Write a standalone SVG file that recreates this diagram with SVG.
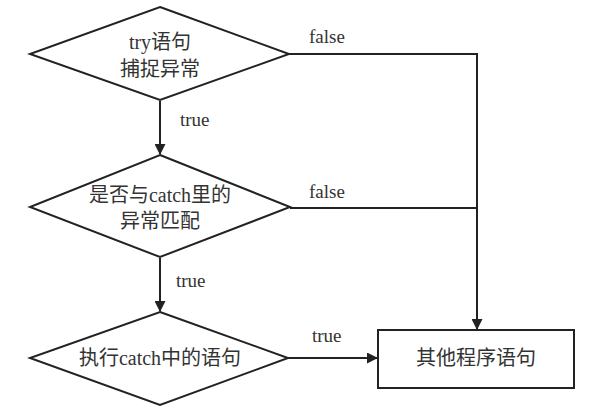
<svg xmlns="http://www.w3.org/2000/svg" width="591" height="416" viewBox="0 0 591 416">
<style>
.shape{fill:#fff;stroke:#222;stroke-width:2}
.line{fill:none;stroke:#222;stroke-width:2}
.t{font-family:"Liberation Serif","Noto Sans CJK SC",serif;font-size:20px;fill:#333;text-anchor:middle;dominant-baseline:central}
.lbl{font-family:"Liberation Serif",serif;font-size:19px;fill:#333}
</style>
<defs>
<marker id="arr" markerWidth="11" markerHeight="11" refX="10" refY="5.5" orient="auto" markerUnits="userSpaceOnUse">
<path d="M0,0 L11,5.5 L0,11 Z" fill="#222"/>
</marker>
</defs>
<rect width="591" height="416" fill="#fff"/>
<g id="connectors">
<line class="line" x1="160" y1="101" x2="160" y2="154" marker-end="url(#arr)"/>
<line class="line" x1="160" y1="258" x2="160" y2="311" marker-end="url(#arr)"/>
<polyline class="line" points="289,54 477,54 477,329" marker-end="url(#arr)"/>
<line class="line" x1="290" y1="208" x2="477" y2="208"/>
<line class="line" x1="288" y1="358" x2="377" y2="358" marker-end="url(#arr)"/>
<text class="lbl" x="180" y="126">true</text>
<text class="lbl" x="176" y="287">true</text>
<text class="lbl" x="309" y="43">false</text>
<text class="lbl" x="309" y="198">false</text>
<text class="lbl" x="312" y="342">true</text>
</g>
<g id="n1">
<polygon class="shape" points="160,7 289,54 160,100 30,54"/>
<text class="t" x="160" y="42">try语句</text>
<text class="t" x="160" y="69">捕捉异常</text>
</g>
<g id="n2">
<polygon class="shape" points="160,155 290,207 160,257 30,207"/>
<text class="t" x="160" y="195">是否与catch里的</text>
<text class="t" x="160" y="221">异常匹配</text>
</g>
<g id="n3">
<polygon class="shape" points="160,312 288,358 160,405 30,358"/>
<text class="t" x="160" y="358">执行catch中的语句</text>
</g>
<g id="n4">
<rect class="shape" x="378" y="330" width="196" height="58"/>
<text class="t" x="476" y="358">其他程序语句</text>
</g>
</svg>
